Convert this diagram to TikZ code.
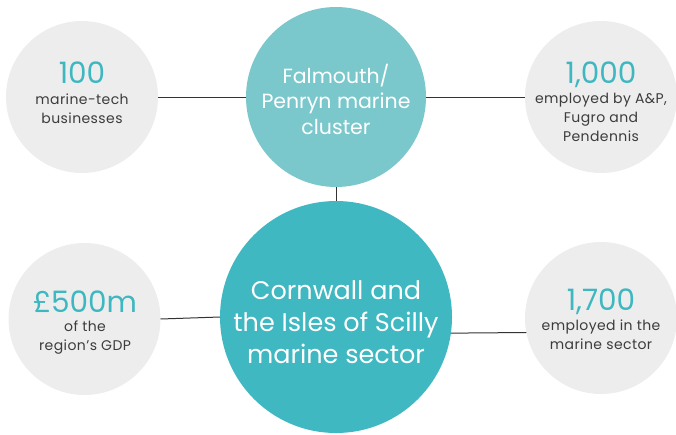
\documentclass[tikz,border=0pt]{standalone}
\usepackage{fontspec}
\setmainfont{Poppins}
\newfontfamily\spacedfont[LetterSpace=3]{Poppins}
\definecolor{greyfill}{HTML}{EDEDED}
\definecolor{tealA}{HTML}{7BC8CC}
\definecolor{tealB}{HTML}{3FB8C2}
\definecolor{numcol}{HTML}{3DB7C0}
\definecolor{txtcol}{HTML}{3C3C3C}
\definecolor{linecol}{HTML}{333333}
\tikzset{
  statdot/.style={circle, fill=greyfill, draw=none, minimum size=152pt, inner sep=0pt, outer sep=0pt},
  hubdot/.style={circle, fill=tealA, draw=none, minimum size=180pt, inner sep=0pt, outer sep=0pt},
  maindot/.style={circle, fill=tealB, draw=none, minimum size=232pt, inner sep=0pt, outer sep=0pt},
  bignum/.style={anchor=base, text=numcol, font=\fontsize{29.5}{29.5}\selectfont, inner sep=0pt},
  smalltxt/.style={anchor=base, text=txtcol, font=\spacedfont\fontsize{14}{14}\selectfont, inner sep=0pt},
  hubtxt/.style={anchor=base, text=white, font=\fontsize{20.5}{20.5}\selectfont, inner sep=0pt},
  maintxt/.style={anchor=base, text=white, font=\fontsize{25.5}{25.5}\selectfont, inner sep=0pt},
  link/.style={draw=linecol, line width=1pt}
}
\begin{document}
\begin{tikzpicture}[x=1pt,y=-1pt]
\useasboundingbox (0,0) rectangle (676,434);
% circles
\node[statdot] (tl) at (82,97) {};
\node[hubdot] (hub) at (336,97) {};
\node[statdot] (tr) at (601,97) {};
\node[statdot] (bl) at (84.5,319) {};
\node[maindot] (main) at (336,317) {};
\node[statdot] (br) at (601,318) {};
% connectors
\draw[link] (tl.east) -- (hub.west);
\draw[link] (hub.east) -- (tr.west);
\draw[link] (hub.south) -- (main.north);
\draw[link] (bl.east) -- (main.west);
\draw[link] (main.-8) -- (br.191);
% top-left
\node[bignum] (n100) at (82,83) {100};
\node[smalltxt] (t100a) at (82,104) {marine-tech};
\node[smalltxt] (t100b) at (82,123) {businesses};
% hub
\node[hubtxt] (h1) at (336,83) {Falmouth/};
\node[hubtxt] (h2) at (336,108) {Penryn marine};
\node[hubtxt] (h3) at (336,134) {cluster};
% top-right
\node[bignum] (n1000) at (601,83) {1,000};
\node[smalltxt] (t1000a) at (601,103) {employed by A\&P,};
\node[smalltxt] (t1000b) at (601,122) {Fugro and};
\node[smalltxt] (t1000c) at (601,141) {Pendennis};
% bottom-left
\node[bignum] (n500) at (85,312) {£500m};
\node[smalltxt] (t500a) at (85,331) {of the};
\node[smalltxt] (t500b) at (85,350) {region’s GDP};
% main
\node[maintxt] (m1) at (336,299) {Cornwall and};
\node[maintxt] (m2) at (336,331) {the Isles of Scilly};
\node[maintxt] (m3) at (336,363) {marine sector};
% bottom-right
\node[bignum] (n1700) at (601,310) {1,700};
\node[smalltxt] (t1700a) at (601,330) {employed in the};
\node[smalltxt] (t1700b) at (601,349) {marine sector};
\end{tikzpicture}
\end{document}
